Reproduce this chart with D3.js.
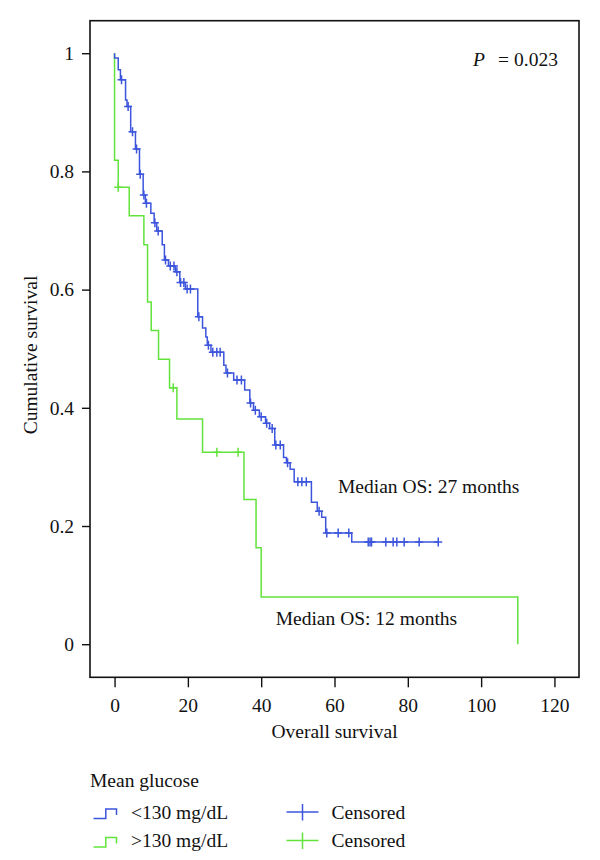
<!DOCTYPE html>
<html>
<head>
<meta charset="utf-8">
<script src="https://cdn.jsdelivr.net/npm/d3@7"></script>
<style>
    body { margin: 0; background: #fff; }
    text { font-family: "Liberation Serif", "DejaVu Serif", serif; }
</style>
</head>
<body>
<div id="chart"></div>
<script>
// months / survival
const lowTimes = [0, 0, 1.0, 1.6, 3.0, 3.4, 4.4, 5.7, 6.8, 7.8, 8.4, 9.9, 10.8, 11.5, 13.0, 13.6, 14.7, 16.6, 17.8, 19.3,
    22.7, 24.0, 24.9, 25.3, 26.3, 29.8, 30.4, 32.5, 35.5, 36.9, 37.9, 39.5, 41.2, 42.3, 43.7, 46.1, 46.9, 47.9, 49.0,
    53.7, 55.3, 56.5, 57.6, 64.7, 88.3];
const lowSurv = [1, 0.992, 0.972, 0.955, 0.921, 0.910, 0.867, 0.838, 0.795, 0.760, 0.746, 0.729, 0.713, 0.699, 0.676, 0.650, 0.640, 0.630, 0.612, 0.601,
    0.554, 0.535, 0.520, 0.506, 0.494, 0.472, 0.459, 0.447, 0.430, 0.408, 0.396, 0.385, 0.374, 0.365, 0.337, 0.316, 0.307, 0.296, 0.275,
    0.240, 0.225, 0.215, 0.188, 0.173, 0.173];
const lowCensored = [1.9, 3.7, 4.9, 6.0, 7.0, 8.0, 8.7, 11.0, 11.9, 13.9, 15.2, 16.2, 17.0, 18.0, 18.9, 19.8, 20.7, 23.0,
    25.6, 26.8, 27.9, 28.8, 30.8, 33.4, 34.6, 37.1, 38.4, 40.0, 41.5, 43.0, 44.0, 45.2, 47.2, 50.0, 51.1, 52.3, 55.8,
    57.9, 61.0, 63.9, 69.2, 69.7, 70.1, 74.0, 76.0, 77.0, 79.0, 83.1, 88.3];

const highTimes = [0, 0, 1, 4, 8, 9, 10, 12, 15, 17, 24, 35.3, 38.6, 40, 110, 110];
const highSurv = [1, 0.819, 0.773, 0.725, 0.676, 0.579, 0.531, 0.482, 0.434, 0.381, 0.325, 0.245, 0.163, 0.08, 0.08, 0];
const highCensored = [1, 16, 27.9, 33.7];

const xTicks = [0, 20, 40, 60, 80, 100, 120];
const yTicks = [0, 0.2, 0.4, 0.6, 0.8, 1];

const blue = "#3c55dc";
const green = "#62e33c";
const fontSize = 19.5;

const width = 600;
const height = 860;
const frame = { left: 90, right: 579, top: 20.7, bottom: 677.3 };

const x = d3.scaleLinear().domain([-6.7, 126.7]).range([frame.left, frame.right]);
const y = d3.scaleLinear().domain([-0.056, 1.055]).range([frame.bottom, frame.top]);

const svg = d3.select("#chart").append("svg")
    .attr("width", width)
    .attr("height", height);

// frame
svg.append("rect")
    .attr("x", frame.left)
    .attr("y", frame.top)
    .attr("width", frame.right - frame.left)
    .attr("height", frame.bottom - frame.top)
    .attr("fill", "none")
    .attr("stroke", "#111")
    .attr("stroke-width", 1.6);

const xAxis = svg.append("g")
    .attr("transform", `translate(0, ${frame.bottom})`)
    .call(d3.axisBottom(x).tickValues(xTicks).tickSize(10).tickPadding(10.4).tickFormat(d => String(d)));

const yAxis = svg.append("g")
    .attr("transform", `translate(${frame.left}, 0)`)
    .call(d3.axisLeft(y).tickValues(yTicks).tickSize(8).tickPadding(8).tickFormat(d => String(d)));

[xAxis, yAxis].forEach(g => {
    g.select(".domain").remove();
    g.selectAll("line").attr("stroke", "#111").attr("stroke-width", 1.4);
    g.selectAll("text")
        .attr("font-family", "Liberation Serif, DejaVu Serif, serif")
        .attr("font-size", fontSize)
        .attr("fill", "#111");
});

svg.append("text")
    .attr("x", (x(0) + x(120)) / 2)
    .attr("y", 738)
    .attr("text-anchor", "middle")
    .attr("font-size", fontSize)
    .attr("fill", "#111")
    .text("Overall survival");

svg.append("text")
    .attr("transform", "translate(37, 355) rotate(-90)")
    .attr("text-anchor", "middle")
    .attr("font-size", fontSize)
    .attr("fill", "#111")
    .text("Cumulative survival");

// KM curves
const step = d3.line()
    .x(d => x(d[0]))
    .y(d => y(d[1]))
    .curve(d3.curveStepAfter);

function survAt(times, surv, t) {
    const i = d3.bisectRight(times, t) - 1;
    return surv[Math.max(0, i)];
}

function drawCurve(times, surv, censored, color) {
    svg.append("path")
        .attr("d", step(times.map((t, i) => [t, surv[i]])))
        .attr("fill", "none")
        .attr("stroke", color)
        .attr("stroke-width", 1.5);

    svg.append("g")
        .selectAll("path")
        .data(censored)
        .join("path")
        .attr("d", t => {
            const cx = x(t), cy = y(survAt(times, surv, t));
            return `M${cx - 4},${cy}H${cx + 4}M${cx},${cy - 4.5}V${cy + 4.5}`;
        })
        .attr("fill", "none")
        .attr("stroke", color)
        .attr("stroke-width", 1.5);
}

drawCurve(highTimes, highSurv, highCensored, green);
drawCurve(lowTimes, lowSurv, lowCensored, blue);

// annotations
const p = svg.append("text")
    .attr("y", 66)
    .attr("font-size", fontSize)
    .attr("fill", "#111");
p.append("tspan").attr("x", 473).attr("font-style", "italic").text("P");
p.append("tspan").attr("x", 498).text("=");
p.append("tspan").attr("x", 514).text("0.023");

svg.append("text")
    .attr("x", 338)
    .attr("y", 492.7)
    .attr("font-size", fontSize)
    .attr("fill", "#111")
    .text("Median OS: 27 months");

svg.append("text")
    .attr("x", 275.7)
    .attr("y", 625)
    .attr("font-size", fontSize)
    .attr("fill", "#111")
    .text("Median OS: 12 months");

// legend
const legend = svg.append("g");
legend.append("text")
    .attr("x", 90)
    .attr("y", 787)
    .attr("font-size", fontSize)
    .attr("fill", "#111")
    .text("Mean glucose");

const legendRows = [
    { label: "<130 mg/dL", color: blue, y: 818.5 },
    { label: ">130 mg/dL", color: green, y: 847 }
];

legendRows.forEach(r => {
    legend.append("path")
        .attr("d", `M93.5,${r.y}H105.8V${r.y - 9.5}H116.5V${r.y - 3.5}`)
        .attr("fill", "none")
        .attr("stroke", r.color)
        .attr("stroke-width", 1.5);
    legend.append("text")
        .attr("x", 131)
        .attr("y", r.y)
        .attr("font-size", fontSize)
        .attr("fill", "#111")
        .text(r.label);
    legend.append("path")
        .attr("d", `M286.5,${r.y - 6.5}H318.5M302.5,${r.y - 14.5}V${r.y + 2}`)
        .attr("fill", "none")
        .attr("stroke", r.color)
        .attr("stroke-width", 1.5);
    legend.append("text")
        .attr("x", 331.5)
        .attr("y", r.y)
        .attr("font-size", fontSize)
        .attr("fill", "#111")
        .text("Censored");
});
</script>
</body>
</html>
